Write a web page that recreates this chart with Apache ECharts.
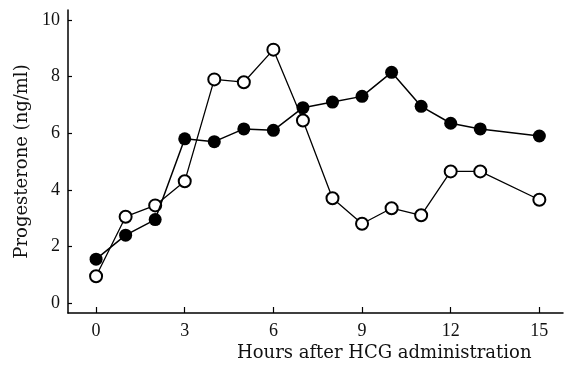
<!DOCTYPE html>
<html>
<head>
<meta charset="utf-8">
<script src="https://cdn.jsdelivr.net/npm/echarts@6/dist/echarts.min.js"></script>
<style>html,body{margin:0;padding:0;background:#fff}#c{width:565px;height:370px}</style>
</head>
<body>
<div id="c"></div>
<script>
var hours = [0, 1, 2, 3, 4, 5, 6, 7, 8, 9, 10, 11, 12, 13, 15];
var filledValues = [1.55, 2.4, 2.95, 5.8, 5.7, 6.15, 6.1, 6.9, 7.1, 7.3, 8.15, 6.95, 6.35, 6.15, 5.9];
var openValues = [0.95, 3.05, 3.45, 4.3, 7.9, 7.8, 8.95, 6.45, 3.7, 2.8, 3.35, 3.1, 4.65, 4.65, 3.65];
var xTicks = [0, 3, 6, 9, 12, 15];
var yTicks = [0, 2, 4, 6, 8, 10];

function pairs(xs, ys) { return xs.map(function (x, i) { return [x, ys[i]]; }); }

var chart = echarts.init(document.getElementById('c'), null, {renderer: 'canvas'});
var serif = 'Liberation Serif';
chart.setOption({
  animation: false,
  backgroundColor: '#fff',
  grid: {left: 68, right: 2, top: 10, bottom: 57, containLabel: false},
  xAxis: {
    type: 'value', min: -0.95, max: 15.8,
    axisLine: {show: true, onZero: false, lineStyle: {color: '#000', width: 1.5}},
    axisTick: {show: true, inside: true, length: 6, customValues: xTicks, lineStyle: {color: '#000', width: 1.2}},
    axisLabel: {show: true, customValues: xTicks, margin: 9, color: '#111', fontFamily: serif, fontSize: 18},
    splitLine: {show: false}
  },
  yAxis: {
    type: 'value', min: -0.35, max: 10.35,
    name: 'Progesterone (ng/ml)', nameLocation: 'middle', nameGap: 34, nameRotate: 90,
    nameTextStyle: {color: '#111', fontFamily: 'DejaVu Serif', fontSize: 18},
    axisLine: {show: true, onZero: false, lineStyle: {color: '#000', width: 1.5}},
    axisTick: {show: true, inside: true, length: 4, customValues: yTicks, lineStyle: {color: '#000', width: 1.2}},
    axisLabel: {show: true, customValues: yTicks, margin: 8, color: '#111', fontFamily: serif, fontSize: 18},
    splitLine: {show: false}
  },
  graphic: [{
    type: 'text', left: 237, top: 344,
    style: {text: 'Hours after HCG administration', fill: '#111', font: '18px "DejaVu Serif"'}
  }],
  series: [{
    type: 'line', data: pairs(hours, openValues),
    symbol: 'circle', symbolSize: 12,
    lineStyle: {color: '#000', width: 1.3},
    itemStyle: {color: '#fff', borderColor: '#000', borderWidth: 2},
    z: 2
  }, {
    type: 'line', data: pairs(hours, filledValues),
    symbol: 'circle', symbolSize: 13,
    lineStyle: {color: '#000', width: 1.5},
    itemStyle: {color: '#000', borderColor: '#000', borderWidth: 0},
    z: 3
  }]
});
</script>
</body>
</html>
